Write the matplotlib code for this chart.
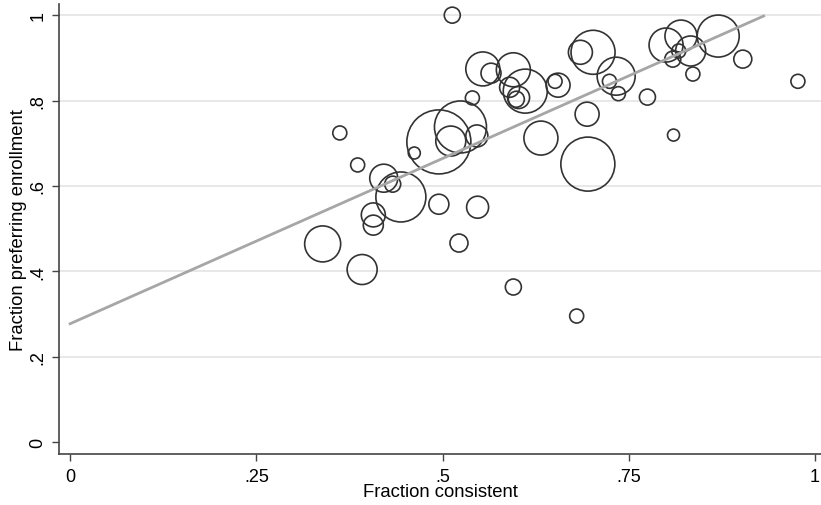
import matplotlib.pyplot as plt

# fraction consistent, fraction preferring enrollment, marker radius (relative weight)
frac_consistent = [0.339, 0.392, 0.407, 0.407, 0.421, 0.433, 0.444, 0.495, 0.522,
                   0.547, 0.595, 0.680, 0.362, 0.386, 0.462, 0.495, 0.511, 0.524,
                   0.546, 0.540, 0.554, 0.565, 0.595, 0.513, 0.590, 0.611, 0.599,
                   0.602, 0.655, 0.651, 0.685, 0.702, 0.733, 0.724, 0.736, 0.694,
                   0.632, 0.695, 0.775, 0.810, 0.977, 0.903, 0.870, 0.800, 0.820,
                   0.833, 0.809, 0.817, 0.836]
frac_enroll = [0.464, 0.404, 0.532, 0.508, 0.618, 0.604, 0.574, 0.557, 0.466,
               0.550, 0.363, 0.295, 0.724, 0.649, 0.677, 0.703, 0.705, 0.738,
               0.717, 0.806, 0.874, 0.864, 0.872, 1.000, 0.831, 0.822, 0.803,
               0.807, 0.836, 0.845, 0.913, 0.913, 0.857, 0.845, 0.816, 0.768,
               0.712, 0.651, 0.808, 0.719, 0.845, 0.897, 0.951, 0.930, 0.951,
               0.916, 0.897, 0.916, 0.862]
weight = [18, 15, 12, 10, 14, 8, 25, 10, 9,
          11, 8, 7, 7, 7, 6, 32, 15, 26,
          11, 7, 17, 10, 17, 8, 10, 22, 8,
          11, 12, 7, 12, 22, 19, 7, 7, 12,
          17, 27, 8, 6, 7, 9, 21, 17, 16,
          15, 8, 7, 7]

fit_x = [0.0, 0.931]
fit_y = [0.277, 0.998]

plt.rcParams['font.family'] = ['Liberation Sans', 'DejaVu Sans']

fig = plt.figure(figsize=(8.21, 5.06), dpi=100)
ax = fig.add_axes([0.072, 0.101, 0.928, 0.889])

ax.set_xlim(-0.0148, 1.008)
ax.set_ylim(-0.028, 1.026)

ax.set_yticks([0, 0.2, 0.4, 0.6, 0.8, 1.0])
ax.set_yticklabels(['0', '.2', '.4', '.6', '.8', '1'], rotation=90, va='center')
ax.set_xticks([0, 0.25, 0.5, 0.75, 1.0])
ax.set_xticklabels(['0', '.25', '.5', '.75', '1'])
ax.tick_params(labelsize=13, color='#444444', length=5, width=1)
ax.tick_params(axis='x', pad=5)
ax.tick_params(axis='y', pad=4)

for yv in [0.2, 0.4, 0.6, 0.8, 1.0]:
    ax.axhline(yv, color='#e6e6e6', lw=1.3, zorder=0)

sizes = [(1.44 * r) ** 2 for r in weight]
ax.scatter(frac_consistent, frac_enroll, s=sizes, facecolors='none',
           edgecolors='#333333', linewidths=1.2, zorder=2)
ax.plot(fit_x, fit_y, color='#a6a6a6', lw=2, zorder=3)

ax.spines['top'].set_visible(False)
ax.spines['right'].set_visible(False)
ax.spines['left'].set_color('#444444')
ax.spines['bottom'].set_color('#444444')
ax.spines['left'].set_linewidth(1.2)
ax.spines['bottom'].set_linewidth(1.2)

ax.set_xlabel('Fraction consistent', fontsize=13.3, labelpad=-1)
ax.set_ylabel('Fraction preferring enrollment', fontsize=13.3, labelpad=2)

plt.savefig('out.png', dpi=100)
